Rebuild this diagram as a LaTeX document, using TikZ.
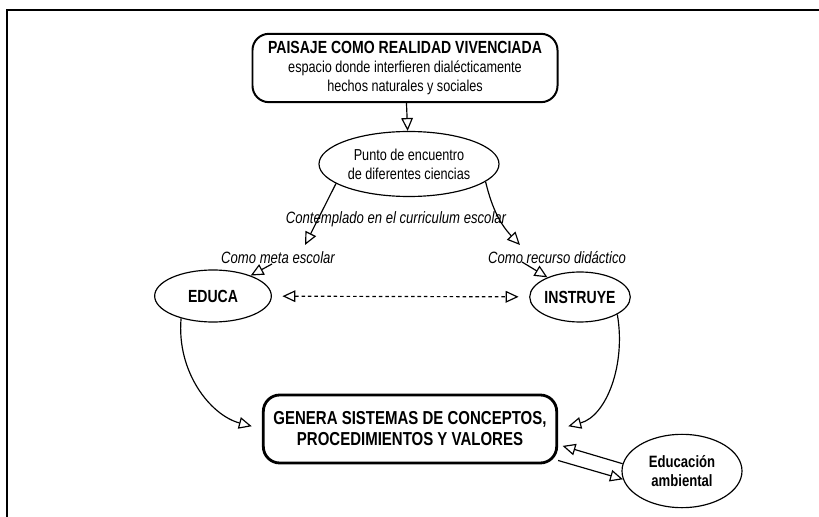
\documentclass[tikz,border=0pt]{standalone}
\usepackage{fontspec}
\setmainfont{Liberation Sans}[FakeStretch=0.8]
\usetikzlibrary{shapes,arrows.meta}

\begin{document}
\begin{tikzpicture}[x=0.03cm,y=0.03cm,
  tip/.style={-{Triangle[open,length=11pt,width=10pt]},draw=black,line width=1pt},
  oval/.style={shape=ellipse,draw=black,align=center,line width=1pt,inner sep=0pt},
  note/.style={font=\fontsize{14}{16}\selectfont\itshape}]
\useasboundingbox (0,0) rectangle (819,-517);
\draw[line width=1.6pt] (7,-517) -- (7,-10) -- (819,-10);

\node[shape=rectangle,rounded corners=14pt,draw=black,align=center,line width=1.7pt,minimum width=9.15cm,minimum height=2.05cm,inner sep=0pt,font=\fontsize{13.5}{16}\selectfont] (0) at (405,-68) {{\fontsize{15}{17}\selectfont\bfseries PAISAJE COMO REALIDAD VIVENCIADA}\\ espacio donde interfieren dialécticamente\\ hechos naturales y sociales};
\node[oval,minimum width=5.4cm,minimum height=1.95cm,font=\fontsize{13.5}{16}\selectfont] (1) at (409,-164) {Punto de encuentro\\de diferentes ciencias};
\node[oval,minimum width=3.5cm,minimum height=1.56cm,font=\fontsize{15}{17}\selectfont\bfseries] (2) at (213,-296) {EDUCA};
\node[oval,minimum width=2.8cm,minimum height=1.5cm,font=\fontsize{15}{17}\selectfont\bfseries] (3) at (580,-297) {INSTRUYE};
\node[shape=rectangle,rounded corners=14pt,draw=black,align=center,line width=2.4pt,minimum width=8.8cm,minimum height=2.04cm,inner sep=0pt,font=\fontsize{16}{18}\selectfont\bfseries] (4) at (410,-429) {GENERA SISTEMAS DE CONCEPTOS,\\PROCEDIMIENTOS Y VALORES};
\node[oval,minimum width=3.6cm,minimum height=2.2cm,font=\fontsize{14}{16}\selectfont\bfseries] (5) at (682,-471) {Educación\\ambiental};
\node[note] (6) at (396,-219) {Contemplado en el curriculum escolar};
\node[note] (7) at (278,-258) {Como meta escolar};
\node[note] (8) at (557,-258) {Como recurso didáctico};
\coordinate (a) at (305,-245);
\coordinate (b) at (520,-245);
\coordinate (c) at (272,-264);
\coordinate (d) at (522,-262);

\path (0) edge[tip] (1);
\path (1.195) edge[tip] (a);
\path (1.-13) edge[tip,bend right=15] (b);
\path (c) edge[tip] (2);
\path (d) edge[tip] (3);
\path (2) edge[tip,{Triangle[open,length=11pt,width=10pt]}-{Triangle[open,length=11pt,width=10pt]},dash pattern=on 3pt off 2.5pt,shorten <=9pt,shorten >=9pt] (3);
\path (2.215) edge[tip,shorten >=9pt,out=-95,in=165] (4.west);
\path (3.-25) edge[tip,shorten >=9pt,out=-80,in=15] (4.east);
\path (5.173) edge[tip,shorten >=4pt] (4.-6);
\path (4.-12) edge[tip] (5.188);
\end{tikzpicture}
\end{document}
